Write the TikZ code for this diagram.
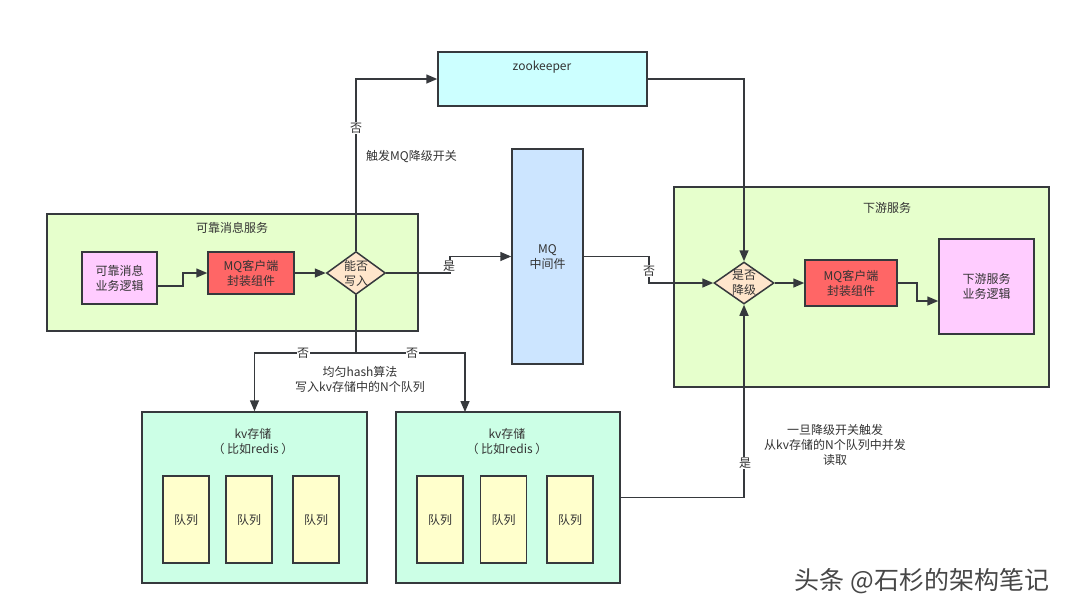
\documentclass[tikz,border=0pt]{standalone}
\usepackage{fontspec}
\setmainfont{Noto Sans CJK SC}
\usetikzlibrary{arrows.meta,shapes.geometric}
\definecolor{ln}{HTML}{36393D}
\definecolor{txt}{HTML}{333333}
\definecolor{svcbg}{HTML}{E6FFCC}
\definecolor{pinkbg}{HTML}{FFCCFF}
\definecolor{redbg}{HTML}{FF6666}
\definecolor{diabg}{HTML}{FFE6CC}
\definecolor{mqbg}{HTML}{CCE5FF}
\definecolor{zkbg}{HTML}{CCFFFF}
\definecolor{kvbg}{HTML}{CCFFE6}
\definecolor{qbg}{HTML}{FFFFCC}
\tikzset{
  base/.style={draw=ln,line width=1.5pt,inner sep=0pt,text=txt,align=center,
    font=\fontsize{12}{15}\selectfont},
  boxr/.style={base,rectangle},
  svc/.style={boxr,fill=svcbg},
  biz/.style={boxr,fill=pinkbg},
  cli/.style={boxr,fill=redbg},
  dia/.style={base,diamond,fill=diabg},
  mqbox/.style={boxr,fill=mqbg},
  zkbox/.style={boxr,fill=zkbg},
  kvbox/.style={boxr,fill=kvbg},
  qbox/.style={boxr,fill=qbg,minimum width=46pt,minimum height=87pt},
  lbl/.style={text=txt,font=\fontsize{12}{15}\selectfont,align=center,inner sep=1pt},
  elbl/.style={lbl,fill=white,inner sep=0.5pt},
  con/.style={draw=ln,line width=1.5pt},
  arr/.style={con,-{Triangle[length=11pt,width=9pt]}},
}
\begin{document}
\begin{tikzpicture}[x=1pt,y=-1pt]
\useasboundingbox[fill=white] (0,0) rectangle (1080,614);

% left service
\node[svc,minimum width=371pt,minimum height=117pt] (svc1) at (232.5,272.5) {};
\node[lbl] (svc1t) at (232,228) {可靠消息服务};
\node[biz,minimum width=75pt,minimum height=52pt] (biz1) at (119.5,278) {可靠消息\\业务逻辑};
\node[cli,minimum width=86pt,minimum height=42pt] (cli1) at (251,273) {MQ客户端\\封装组件};
\node[dia,minimum width=59pt,minimum height=43pt,aspect=1.37] (dia1) at (356,273) {};
\node[lbl] (dia1t) at (356,273) {能否\\写入};

% zookeeper
\node[zkbox,minimum width=209pt,minimum height=54pt] (zk) at (542.5,79) {};
\node[lbl] (zkt) at (542,67) {zookeeper};

% MQ
\node[mqbox,minimum width=71pt,minimum height=215pt] (mq) at (547.5,256.5) {MQ\\中间件};

% right service
\node[svc,minimum width=375pt,minimum height=200pt] (svc2) at (861.5,287) {};
\node[lbl] (svc2t) at (887,208) {下游服务};
\node[dia,minimum width=60pt,minimum height=42pt,aspect=1.43] (dia2) at (744,283) {};
\node[lbl] (dia2t) at (744,283) {是否\\降级};
\node[cli,minimum width=92pt,minimum height=46pt] (cli2) at (851,283) {MQ客户端\\封装组件};
\node[biz,minimum width=95pt,minimum height=95pt] (biz2) at (986.5,286.5) {下游服务\\业务逻辑};

% kv stores
\node[kvbox,minimum width=225pt,minimum height=171pt] (kv1) at (254.5,497.5) {};
\node[lbl] (kv1t) at (253,441.5) {kv存储\\（ 比如redis ）};
\node[qbox] (q11) at (186,519.5) {队列};
\node[qbox] (q12) at (249,519.5) {队列};
\node[qbox] (q13) at (316,519.5) {队列};

\node[kvbox,minimum width=224pt,minimum height=171pt] (kv2) at (508,497.5) {};
\node[lbl] (kv2t) at (507,441.5) {kv存储\\（ 比如redis ）};
\node[qbox] (q21) at (440,519.5) {队列};
\node[qbox] (q22) at (503.5,519.5) {队列};
\node[qbox] (q23) at (570,519.5) {队列};

% connectors
\draw[arr] ([yshift=-8pt]biz1.east) -- (183,286) |- (cli1.west);
\draw[arr] (cli1.east) -- (dia1.west);
\draw[arr] (dia1.east) -- (450,273) |- (mq.west);
\node[elbl] (l1) at (449,266) {是};
\draw[arr] (dia1.north) |- (zk.west);
\node[elbl] (l2) at (356,128) {否};
\node[lbl,anchor=west] (l3) at (365,157) {触发MQ降级开关};
\draw[arr] (zk.east) -| (dia2.north);
\draw[arr] (mq.east) -- (649,256.5) |- (dia2.west);
\node[elbl] (l4) at (649,271) {否};
\draw[arr] (dia2.east) -- (cli2.west);
\draw[arr] (cli2.east) -- (917,283) |- (biz2.west |- 0,301);

\coordinate (split) at (356,353);
\draw[con] (dia1.south) -- (split);
\draw[arr] (split) -| (kv1.north);
\draw[arr] (split) -- (465,353) -- (465,412);
\node[elbl] (l5) at (303,353) {否};
\node[elbl] (l6) at (412,353) {否};
\node[lbl] (l7) at (360,379.5) {均匀hash算法\\写入kv存储中的N个队列};

\draw[arr] (kv2.east) -| (dia2.south);
\node[elbl] (l8) at (745,463) {是};
\node[lbl] (l9) at (835,445) {一旦降级开关触发\\从kv存储的N个队列中并发\\读取};

% watermark
\node[text=black!72,font=\fontsize{25}{28}\selectfont,inner sep=0pt] (wm) at (922,581) {头条 @石杉的架构笔记};
\end{tikzpicture}
\end{document}
